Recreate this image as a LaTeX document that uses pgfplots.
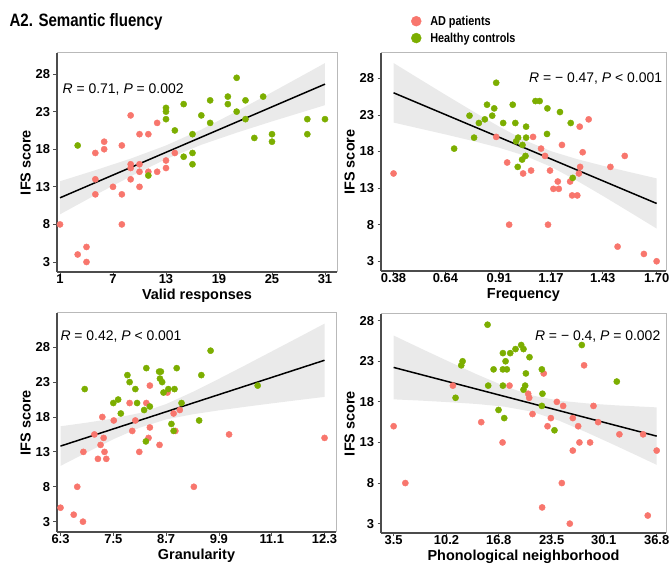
\documentclass[border=0pt]{standalone}
\usepackage{pgfplots}
\pgfplotsset{compat=1.18}
\usepackage{fontspec}
\setmainfont{Liberation Sans}
\newfontfamily\narrowfont[FakeStretch=0.84]{Liberation Sans}

\definecolor{adred}{HTML}{F8766D}
\definecolor{hcgreen}{HTML}{7CAE00}
\definecolor{bandgray}{HTML}{D9D9D9}

\tikzset{stat/.style={font=\fontsize{14}{14}\selectfont}}
\pgfplotsset{
  panel/.style={
    scale only axis, clip=false,
    axis lines*=left,
    axis line style={-, black!70, line width=1.3bp},
    tick align=outside, major tick length=3.5bp,
    tick style={black!70, line width=0.8bp},
    ticklabel style={font=\fontsize{13}{13}\selectfont\bfseries},
    xticklabel style={yshift=2.5bp, inner sep=1.5bp},
    label style={font=\fontsize{14.5}{14.5}\selectfont\bfseries},
    /pgf/number format/assume math mode=true,
    ylabel={IFS score},
    ytick={3,8,13,18,23,28},
    xlabel style={at={(axis description cs:0.5,0)}, anchor=center, yshift=-24bp, inner sep=1bp},
    ylabel style={yshift=-2bp},
    after end axis/.code={
      \draw[gray!55, line width=1bp] (rel axis cs:0,1) -- (rel axis cs:1,1) -- (rel axis cs:1,0);
    },
  },
  ad/.style={only marks, mark=*, mark size=3.1bp, color=adred, mark options={fill=adred, draw=adred}},
  hc/.style={only marks, mark=*, mark size=3.1bp, color=hcgreen, mark options={fill=hcgreen, draw=hcgreen}},
  band/.style={fill=bandgray, fill opacity=0.55, draw=none},
  fitline/.style={black, line width=1.5bp},
}

\begin{document}
\begin{tikzpicture}
\path[use as bounding box] (0bp,0bp) rectangle (672bp,564bp);
\node[anchor=west, font=\narrowfont\fontsize{18}{18}\selectfont\bfseries] at (6bp,542bp) {A2. Semantic fluency};

% top-left: valid responses
\begin{axis}[panel, at={(57bp,511bp)}, anchor=north west, width=280bp, height=219bp,
  xmin=0.66, xmax=32.36, ymin=1.67, ymax=30.8,
  xtick={1,7,13,19,25,31}, xticklabels={1,7,13,19,25,31},
  xlabel={Valid responses}]
\addplot[ad] coordinates {
(1,8) (3,4) (4,5) (4,3) (5,17.5) (5,14) (5,12) (6,19) (6,18) (7,13)
(8,18.5) (8,12) (8,8) (9,22.5) (9,16) (9,15.5) (9,14) (10,20) (10,16) (10,15)
(10,13) (11,20) (11,15) (12,15) (12,21.5) (13,16.5) (13,15.5) (14,17.5)};
\addplot[hc] coordinates {
(3,18.5) (11,14.5) (13,23.5) (13,23) (13,22) (14,20.5) (15,24) (15,17) (16,20) (16,17.5)
(16,16) (17,22.5) (18,24.5) (18,21.5) (20,25) (20,24) (21,27.5) (21,23) (22,24.5) (22,22)
(23,19.5) (24,25) (25,20) (25,19) (29,22) (29,20) (31,22)};
\addplot[band] coordinates {
(1,13.74) (5,15.21) (9,16.75) (13,18.50) (17,20.61) (21,23.04) (25,25.58) (29,28.16) (31,29.46)
(31,23.86) (29,23.14) (25,21.70) (21,20.20) (17,18.59) (13,16.68) (9,14.39) (5,11.91) (1,9.34)} -- cycle;
\addplot[fitline] coordinates {(1,11.54) (31,26.66)};
\node[stat, anchor=west] at (axis cs:0.9,26) {\textit{R} = 0.71, \textit{P} = 0.002};
\end{axis}

% top-right: frequency
\begin{axis}[panel, at={(381bp,511bp)}, anchor=north west, width=285bp, height=218bp,
  xmin=0.317, xmax=1.747, ymin=1.67, ymax=31.47,
  xtick={0.38,0.64,0.91,1.17,1.43,1.70}, xticklabels={0.38,0.64,0.91,1.17,1.43,1.70},
  xlabel={Frequency},
  legend style={at={(0.095,1.19)}, anchor=north west, draw=none, fill=none,
    font=\narrowfont\fontsize{13}{13}\selectfont\bfseries, row sep=2bp,
    /tikz/every odd column/.style={column sep=7bp}},
  legend cell align=left]
\addplot[ad, mark size=5bp] coordinates {(-5,-5)};
\addlegendentry{AD patients}
\addplot[hc, mark size=5bp] coordinates {(-5,-5)};
\addlegendentry{Healthy controls}
\addplot[ad, forget plot] coordinates {
(0.38,15) (0.95,16.5) (0.96,8) (0.895,20) (1.03,15) (1.07,15.4) (1.08,20) (1.12,18.4) (1.14,17.4) (1.155,8)
(1.165,15.4) (1.182,12.9) (1.204,13.9) (1.209,12.9) (1.225,18.9) (1.266,13.9) (1.276,12) (1.302,12) (1.31,15) (1.316,15.9)
(1.314,21.4) (1.329,17.9) (1.359,22.4) (1.468,15.9) (1.504,5) (1.54,17.4) (1.636,4) (1.70,3)};
\addplot[hc, forget plot] coordinates {
(0.684,18.4) (0.761,22.9) (0.784,19.9) (0.808,21.9) (0.838,22.4) (0.849,24.4) (0.875,22.9) (0.885,23.9) (0.895,27.4) (0.93,21.9)
(0.978,24.4) (0.991,21.9) (0.995,19.4) (1.005,19.9) (1.003,15.9) (1.027,18.9) (1.025,16.9) (1.042,17.4) (1.045,21.4) (1.045,19.9)
(1.092,24.9) (1.113,24.9) (1.152,23.9) (1.15,20.4) (1.215,23.4) (1.269,21.9) (1.279,14.4)};
\addplot[band, forget plot] coordinates {
(0.38,30.10) (0.5,28.09) (0.64,25.76) (0.78,23.47) (0.91,21.41) (1.04,19.52) (1.17,18.05) (1.30,16.97) (1.43,16.06) (1.56,15.22) (1.70,14.33)
(1.70,7.47) (1.56,9.80) (1.43,11.94) (1.30,14.01) (1.17,15.91) (1.04,17.42) (0.91,18.52) (0.78,19.43) (0.64,20.34) (0.5,21.21) (0.38,21.96)} -- cycle;
\addplot[fitline, forget plot] coordinates {(0.38,26.03) (1.70,10.90)};
\node[stat, anchor=east] at (axis cs:1.745,28) {\textit{R} = − 0.47, \textit{P} < 0.001};
\end{axis}

% bottom-left: granularity
\begin{axis}[panel, at={(57bp,251bp)}, anchor=north west, width=279bp, height=219bp,
  xmin=6.22, xmax=12.56, ymin=1.52, ymax=32.9,
  xtick={6.3,7.5,8.7,9.9,11.1,12.3}, xticklabels={6.3,7.5,8.7,9.9,11.1,12.3},
  xlabel={Granularity}]
\addplot[ad] coordinates {
(6.3,5) (6.6,4) (6.68,8) (6.81,3) (6.82,13) (7.07,15.5) (7.15,12) (7.21,14) (7.25,18) (7.28,15)
(7.30,13) (7.34,12) (7.51,17.5) (7.87,20) (7.93,16) (8.0,17.5) (8.09,13) (8.25,20) (8.30,15) (8.33,22.5)
(8.33,16.5) (8.55,14) (8.73,21.5) (8.87,18.5) (8.91,16) (9.01,19) (9.33,8) (10.13,15.5) (12.3,15)};
\addplot[hc] coordinates {
(6.85,22) (7.50,20) (7.61,20.5) (7.67,18.5) (7.82,24) (7.87,23) (8.0,22) (8.04,20) (8.20,19) (8.24,14.5)
(8.25,25) (8.33,19.5) (8.54,24.5) (8.58,24.5) (8.56,23.5) (8.61,23) (8.64,21.5) (8.75,22) (8.82,17) (8.87,16)
(8.89,22) (8.94,25) (9.05,20) (9.45,17.5) (9.50,24) (9.71,27.5) (10.78,22.5)};
\addplot[band] coordinates {
(6.3,16.67) (6.9,17.19) (7.5,17.78) (8.1,18.57) (8.7,19.85) (9.3,21.58) (9.9,23.47) (10.5,25.42) (11.1,27.40) (11.7,29.38) (12.3,31.38)
(12.3,20.88) (11.7,20.42) (11.1,19.95) (10.5,19.46) (9.9,18.95) (9.3,18.38) (8.7,17.65) (8.1,16.47) (7.5,14.81) (6.9,12.93) (6.3,10.99)} -- cycle;
\addplot[fitline] coordinates {(6.3,13.83) (12.3,26.13)};
\node[stat, anchor=west] at (axis cs:6.22,29.6) {\textit{R} = 0.42, \textit{P} < 0.001};
\end{axis}

% bottom-right: phonological neighborhood
\begin{axis}[panel, at={(381bp,250bp)}, anchor=north west, width=285bp, height=219bp,
  xmin=1.9, xmax=37.98, ymin=1.85, ymax=28.82,
  xtick={3.5,10.2,16.8,23.5,30.1,36.8}, xticklabels={3.5,10.2,16.8,23.5,30.1,36.8},
  xlabel={Phonological neighborhood}]
\addplot[ad] coordinates {
(3.5,15) (4.98,8) (11.0,20) (14.59,15.5) (17.29,13) (18.17,20) (20.53,19) (20.66,18.5) (21.08,16.5) (22.3,5)
(22.5,21.5) (22.98,15) (23.4,16) (24.16,18) (24.79,8) (24.96,17.5) (25.8,3) (26.18,16) (26.18,12) (26.86,15)
(27.02,13) (27.61,22.5) (28.37,13) (28.8,17.5) (29.39,15.5) (32.08,14) (35.08,14) (35.67,4) (36.8,12)};
\addplot[hc] coordinates {
(11.34,18.5) (12.06,22.5) (12.23,23) (15.39,27.5) (15.47,20) (16.15,22) (16.78,17) (17.33,24) (17.33,20) (17.33,22)
(17.5,16) (17.67,23) (17.83,22) (18.26,24) (18.93,24.5) (19.65,25) (19.94,24.5) (19.94,19.5) (20.15,20) (20.24,21.5)
(20.7,23.5) (22.26,22) (22.34,19) (22.26,17.5) (23.86,14.5) (27.32,25) (31.75,20.5)};
\addplot[band] coordinates {
(3.5,26.17) (7,24.55) (10.5,22.96) (14,21.40) (17.5,19.95) (21,18.79) (24.5,18.14) (28,17.81) (31.5,17.58) (35,17.41) (36.8,17.32)
(36.8,10.24) (35,11.07) (31.5,12.66) (28,14.21) (24.5,15.66) (21,16.79) (17.5,17.41) (14,17.74) (10.5,17.96) (7,18.15) (3.5,18.31)} -- cycle;
\addplot[fitline] coordinates {(3.5,22.24) (36.8,13.78)};
\node[stat, anchor=east] at (axis cs:37.7,26) {\textit{R} = − 0.4, \textit{P} = 0.002};
\end{axis}
\end{tikzpicture}
\end{document}
